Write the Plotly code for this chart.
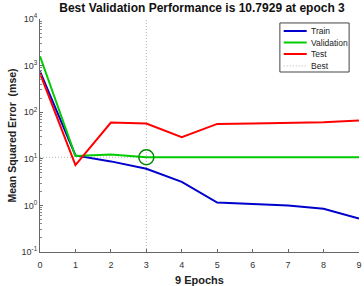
import plotly.graph_objects as go

epochs = [0, 1, 2, 3, 4, 5, 6, 7, 8, 9]
train = [750, 11.8, 8.8, 6.1, 3.2, 1.15, 1.07, 0.99, 0.85, 0.52]
validation = [1580, 11.5, 12.3, 10.7929, 10.8, 10.8, 10.8, 10.8, 10.8, 10.8]
test = [680, 7.3, 60, 57, 29, 56, 57, 58, 61, 66]
best_epoch = 3
best_value = 10.7929
ytick_vals = [0.1, 1, 10, 100, 1000, 10000]
ytick_text = ["10<sup>-1</sup>", "10<sup>0</sup>", "10<sup>1</sup>", "10<sup>2</sup>", "10<sup>3</sup>", "10<sup>4</sup>"]
legend_names = ["Train", "Validation", "Test", "Best"]

FONT = "Liberation Sans, Arial, sans-serif"
BLUE, GREEN, RED, GRAY = "#0000cc", "#00cc00", "#ff0000", "#b4b4b4"
DOT = "1px,2px"

fig = go.Figure()
fig.add_trace(go.Scatter(x=[best_epoch, best_epoch], y=[ytick_vals[0], ytick_vals[-1]], mode="lines",
                         line=dict(color=GRAY, width=1, dash=DOT), showlegend=False, hoverinfo="skip"))
fig.add_trace(go.Scatter(x=[epochs[0], epochs[-1]], y=[best_value, best_value], mode="lines",
                         line=dict(color=GRAY, width=1, dash=DOT), showlegend=False, hoverinfo="skip"))
fig.add_trace(go.Scatter(x=epochs, y=train, mode="lines", name="Train",
                         line=dict(color=BLUE, width=2), showlegend=False))
fig.add_trace(go.Scatter(x=epochs, y=validation, mode="lines", name="Validation",
                         line=dict(color=GREEN, width=2), showlegend=False))
fig.add_trace(go.Scatter(x=epochs, y=test, mode="lines", name="Test",
                         line=dict(color=RED, width=2), showlegend=False))
fig.add_trace(go.Scatter(x=[best_epoch], y=[best_value], mode="markers", showlegend=False,
                         marker=dict(symbol="circle-open", size=15, color="#008800",
                                     line=dict(width=1.5, color="#008800"))))

# custom compact legend (MATLAB style)
lx0, lx1, ly0, ly1 = 0.752, 0.969, 0.7725, 0.983
fig.add_shape(type="rect", xref="paper", yref="paper", x0=lx0, x1=lx1, y0=ly0, y1=ly1,
              line=dict(color="#444444", width=1), fillcolor="white", layer="above")
leg_colors = [BLUE, GREEN, RED, GRAY]
leg_y = [0.9485, 0.8991, 0.8498, 0.7983]
for name, col, yy in zip(legend_names, leg_colors, leg_y):
    fig.add_shape(type="line", xref="paper", yref="paper", x0=0.764, x1=0.836, y0=yy, y1=yy,
                  line=dict(color=col, width=2 if name != "Best" else 1,
                            dash="solid" if name != "Best" else DOT), layer="above")
    fig.add_annotation(xref="paper", yref="paper", x=0.842, y=yy, text=name, showarrow=False,
                       xanchor="left", yanchor="middle",
                       font=dict(family=FONT, size=8.5, color="#222222"))

fig.update_layout(
    width=364, height=286,
    margin=dict(l=40, r=2, t=19, b=32),
    paper_bgcolor="white", plot_bgcolor="white",
    showlegend=False,
    font=dict(family=FONT, size=9, color="#333333"),
    title=dict(text="<b>Best Validation Performance is 10.7929 at epoch 3</b>",
               x=0.555, xanchor="center", y=0.988, yanchor="top",
               font=dict(family=FONT, size=12, color="#111111")),
    xaxis=dict(range=[0, 9], dtick=1, showgrid=False, zeroline=False,
               showline=True, linecolor="#666666", linewidth=1,
               ticks="inside", ticklen=3, tickcolor="#666666",
               ticklabeloverflow="allow", ticklabelstandoff=4,
               title=dict(text="<b>9 Epochs</b>", font=dict(family=FONT, size=11, color="#222222"), standoff=7)),
    yaxis=dict(type="log", range=[-1, 4], tickvals=ytick_vals, ticktext=ytick_text,
               showgrid=False, zeroline=False,
               showline=True, linecolor="#666666", linewidth=1,
               ticks="inside", ticklen=3, tickcolor="#666666",
               minor=dict(ticks="inside", ticklen=2, tickcolor="#888888", dtick="D1", showgrid=False),
               title=dict(text="<b>Mean Squared Error  (mse)</b>", font=dict(family=FONT, size=10.5, color="#222222"), standoff=2)),
)

fig.write_html("out.html")
